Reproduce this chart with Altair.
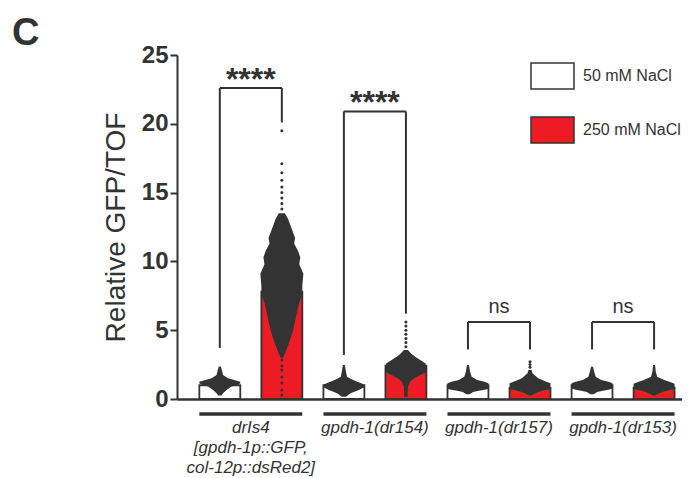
import altair as alt
import pandas as pd

# ---------------- data ----------------
groups = ["drIs4\n[gpdh-1p::GFP,\ncol-12p::dsRed2]", "gpdh-1(dr154)", "gpdh-1(dr157)", "gpdh-1(dr153)"]
conditions = ["50 mM NaCl", "250 mM NaCl"]
mean_50 = [1.0, 1.0, 1.0, 1.0]
mean_250 = [7.8, 2.42, 0.8, 0.82]

sig_labels = ["****", "****", "ns", "ns"]
bracket_top = [22.6, 20.9, 5.6, 5.6]
bracket_left_low = [3.7, 3.2, 3.6, 3.6]
bracket_right_low = [20.1, 6.2, 3.6, 3.6]

# outline of each dense swarm of single-worm values (level, relative spread)
swarm_levels = [
    [0.25, 0.41, 0.65, 0.9, 1.05, 1.14, 1.26, 1.38, 1.5, 1.74, 2.1, 2.37],
    [3.0, 3.33, 4.06, 5.0, 6.0, 7.0, 7.6, 8.2, 9.1, 9.8, 10.3, 10.8, 11.3, 11.7, 12.3, 12.7, 13.1, 13.5],
    [0.17, 0.41, 0.65, 0.85, 1.02, 1.15, 1.26, 1.45, 1.62, 2.0, 2.47],
    [0.17, 0.9, 1.26, 1.5, 1.74, 1.98, 2.35, 2.6, 2.83, 3.07, 3.3, 3.56],
    [0.35, 0.5, 0.62, 0.7, 0.8, 1.0, 1.14, 1.26, 1.38, 1.62, 2.0, 2.47],
    [0.25, 0.35, 0.5, 0.65, 0.72, 0.9, 1.14, 1.26, 1.5, 1.87, 2.1],
    [0.35, 0.5, 0.62, 0.72, 0.8, 1.0, 1.14, 1.26, 1.38, 1.62, 2.0, 2.35],
    [0.25, 0.35, 0.5, 0.65, 0.72, 0.9, 1.1, 1.2, 1.38, 1.62, 2.0, 2.47],
]
swarm_widths = [
    [0.08, 0.16, 0.33, 0.57, 0.9, 1.0, 1.0, 0.7, 0.4, 0.16, 0.1, 0.05],
    [0.06, 0.15, 0.35, 0.55, 0.7, 0.85, 1.0, 1.0, 1.05, 0.85, 0.9, 0.78, 0.6, 0.65, 0.5, 0.4, 0.3, 0.15],
    [0.1, 0.33, 0.73, 1.0, 1.0, 0.85, 0.65, 0.35, 0.15, 0.1, 0.05],
    [0.08, 0.1, 0.2, 0.4, 0.7, 1.0, 1.0, 0.95, 0.7, 0.45, 0.25, 0.1],
    [0.08, 0.25, 0.6, 0.95, 1.0, 1.0, 1.0, 0.8, 0.45, 0.18, 0.1, 0.05],
    [0.05, 0.15, 0.4, 0.75, 1.0, 1.0, 1.0, 0.8, 0.4, 0.12, 0.08],
    [0.08, 0.25, 0.6, 0.95, 1.0, 1.0, 1.0, 0.8, 0.45, 0.18, 0.1, 0.05],
    [0.05, 0.15, 0.4, 0.75, 1.0, 1.0, 1.0, 0.85, 0.5, 0.15, 0.08, 0.05],
]
# sparse outlying values (bar index, value)
tail_bar = [1] * 17 + [3] * 7 + [5] * 3
tail_vals = [19.5, 17.1, 16.45, 15.9, 15.4, 15.0, 14.6, 14.2, 13.8,
             2.83, 2.4, 2.1, 1.6, 1.16, 0.65, 0.29, 3.2,
             3.8, 4.1, 4.4, 4.7, 5.0, 5.3, 5.6,
             2.3, 2.5, 2.7]

# ---------------- layout constants ----------------
PLOT_W, PLOT_H = 505, 344
HB = 0.33              # half bar width in bar-slot units
X_DOMAIN = [-0.69, 7.45]
INK = "#333333"
FONT = "Liberation Sans"

# ---------------- tables ----------------
bar_rows = []
for g, name in enumerate(groups):
    for c, cond in enumerate(conditions):
        p = 2 * g + c
        m = mean_50[g] if c == 0 else mean_250[g]
        bar_rows.append(dict(group=name, cond=cond, pos=p, mean=m, x0=p - HB, x1=p + HB))
bars = pd.DataFrame(bar_rows)

sw_rows = []
for b, (lv, wd) in enumerate(zip(swarm_levels, swarm_widths)):
    for v, w in zip(lv, wd):
        sw_rows.append(dict(bar=b, v=v, xl=b - w * HB, xr=b + w * HB))
swarm = pd.DataFrame(sw_rows)

tails = pd.DataFrame(dict(pos=tail_bar, v=tail_vals))

seg_rows, lab_rows, grp_rows = [], [], []
for g in range(4):
    pl, pr = 2 * g, 2 * g + 1
    seg_rows.append(dict(x0=pl, x1=pr, y0=bracket_top[g], y1=bracket_top[g]))
    seg_rows.append(dict(x0=pl, x1=pl, y0=bracket_top[g], y1=bracket_left_low[g]))
    seg_rows.append(dict(x0=pr, x1=pr, y0=bracket_top[g], y1=bracket_right_low[g]))
    lab_rows.append(dict(xm=(pl + pr) / 2, top=bracket_top[g], label=sig_labels[g]))
    grp_rows.append(dict(name=groups[g], xm=(pl + pr) / 2, x0=pl - HB, x1=pr + HB))
segs = pd.DataFrame(seg_rows)
labs = pd.DataFrame(lab_rows)
grps = pd.DataFrame(grp_rows)

# ---------------- shared scales / axes ----------------
xscale = alt.Scale(domain=X_DOMAIN, nice=False, zero=False)
yscale = alt.Scale(domain=[0, 25], nice=False)
xaxis = alt.Axis(labels=False, ticks=False, grid=False, domainColor=INK, domainWidth=2.5, title=None)
yaxis = alt.Axis(values=[0, 5, 10, 15, 20, 25], grid=False, tickSize=7, tickWidth=2, tickColor=INK,
                 domainColor=INK, domainWidth=2, labelFont=FONT, labelFontSize=24,
                 labelFontWeight="bold", labelColor=INK, labelPadding=2,
                 title="Relative GFP/TOF", titleFont=FONT, titleFontSize=28,
                 titleFontWeight="normal", titleColor=INK, titlePadding=11)


def X(f):
    return alt.X(f, type="quantitative", scale=xscale, axis=xaxis)


def Y(f):
    return alt.Y(f, type="quantitative", scale=yscale, axis=yaxis)


bar_layer = alt.Chart(bars).mark_rect(stroke=INK, strokeWidth=1.8).encode(
    x=X("x0"), x2="x1", y=Y("mean"), y2=alt.datum(0),
    fill=alt.Fill("cond:N", scale=alt.Scale(domain=conditions, range=["#ffffff", "#ED1C24"]),
                  legend=alt.Legend(title=None, orient="none", legendX=353, legendY=-1.5,
                                    direction="vertical",
                                    symbolType="M-1,-0.605H1V0.605H-1Z", symbolSize=1849,
                                    symbolStrokeColor=INK, symbolStrokeWidth=1.5, symbolOpacity=1,
                                    labelFont=FONT, labelFontSize=16, labelColor=INK,
                                    labelOffset=8, rowPadding=15, padding=0, labelLimit=200)),
)

swarm_layer = alt.Chart(swarm).mark_area(color=INK, orient="horizontal", opacity=1).encode(
    y=Y("v"), x=X("xl"), x2=alt.X2("xr"), detail=alt.Detail("bar:N"),
)

tail_layer = alt.Chart(tails).mark_circle(size=9, color=INK, opacity=1).encode(
    x=X("pos"), y=Y("v"),
)

bracket_layer = alt.Chart(segs).mark_rule(color=INK, strokeWidth=2).encode(
    x=X("x0"), x2="x1", y=Y("y0"), y2="y1",
)

star_layer = alt.Chart(labs).transform_filter(alt.datum.label == "****").mark_text(
    font=FONT, fontSize=32, fontWeight="bold", baseline="alphabetic", dy=2, color=INK,
).encode(x=X("xm"), y=Y("top"), text="label:N")

ns_layer = alt.Chart(labs).transform_filter(alt.datum.label == "ns").mark_text(
    font=FONT, fontSize=20, baseline="alphabetic", dy=-9, color=INK,
).encode(x=X("xm"), y=Y("top"), text="label:N")

underline_layer = alt.Chart(grps).mark_rule(color=INK, strokeWidth=3.5).encode(
    x=X("x0"), x2="x1", y=alt.value(PLOT_H + 15),
)

group_text_layer = alt.Chart(grps).mark_text(
    font=FONT, fontSize=17, fontStyle="italic", baseline="top", lineBreak="\n",
    lineHeight=20, color=INK,
).encode(x=X("xm"), y=alt.value(PLOT_H + 21), text="name:N")

panel_layer = alt.Chart(pd.DataFrame({"t": ["C"]})).mark_text(
    font=FONT, fontSize=38, fontWeight="bold", align="left", baseline="alphabetic", color=INK,
).encode(x=alt.value(-165), y=alt.value(-10), text="t:N")

chart = alt.layer(
    bar_layer, swarm_layer, tail_layer, bracket_layer, star_layer, ns_layer,
    underline_layer, group_text_layer, panel_layer,
).properties(
    width=PLOT_W, height=PLOT_H,
    autosize=alt.AutoSizeParams(type="none"),
    padding={"left": 169, "top": 47, "right": 0, "bottom": 78},
    background="white",
).configure_view(stroke=None)

chart.save("out.html", embed_options={"renderer": "svg", "actions": False})
